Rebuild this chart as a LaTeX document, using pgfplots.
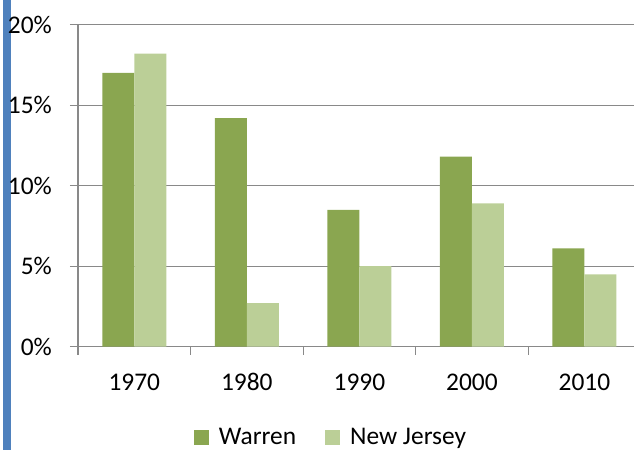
\documentclass[border=0pt]{standalone}
\usepackage{fontspec}
\setmainfont{Carlito}
\usepackage{pgfplots}
\pgfplotsset{compat=1.18}
\definecolor{warren}{HTML}{8AA650}
\definecolor{nj}{HTML}{BBCF97}
\definecolor{axgray}{HTML}{898989}
\definecolor{sidebar}{HTML}{4F81BD}
\begin{document}
\begin{tikzpicture}
\useasboundingbox (-78bp,-103.3bp) rectangle (556bp,346.7bp);
\fill[sidebar] (-75bp,-103.3bp) rectangle (-67bp,346.7bp);
\begin{axis}[
  at={(0,0)}, anchor=south west,
  scale only axis, width=556bp, height=322bp,
  ybar=0pt, bar width=32bp,
  xmin=-0.5, xmax=4.44, ymin=0, ymax=20,
  axis x line*=bottom, axis y line*=left,
  axis line style={axgray, line width=1.2bp, -},
  every tick/.style={axgray, line width=1.2bp},
  ymajorgrids, grid style={axgray, line width=1.2bp},
  ytick={0,5,10,15,20},
  yticklabels={0\%,5\%,10\%,15\%,20\%},
  xtick={0,1,2,3,4},
  xticklabels={1970,1980,1990,2000,2010},
  major x tick style={draw=none},
  minor xtick={-0.5,0.5,1.5,2.5,3.5},
  tick align=outside, major tick length=8bp, minor tick length=8bp,
  /pgf/number format/assume math mode=true,
  ticklabel style={font=\fontsize{25.5}{28}\selectfont, text=black},
  yticklabel style={anchor=east, inner sep=0pt, xshift=-18bp},
  xticklabel style={anchor=base, inner sep=0pt, yshift=-35.3bp},
  legend columns=2,
  legend style={at={(0.455,-0.282)}, anchor=center, draw=none,
    font=\fontsize{25.5}{28}\selectfont,
    /tikz/every odd column/.append style={column sep=8bp},
    /tikz/every even column/.append style={column sep=27bp}},
  legend image code/.code={\fill[#1] (0bp,-7.5bp) rectangle (15bp,7.5bp);},
]
\addplot[fill=warren, draw=none] coordinates {(0,17.0) (1,14.2) (2,8.5) (3,11.8) (4,6.1)};
\addplot[fill=nj, draw=none] coordinates {(0,18.2) (1,2.7) (2,5.0) (3,8.9) (4,4.5)};
\legend{Warren, New Jersey}
\end{axis}
\end{tikzpicture}
\end{document}
